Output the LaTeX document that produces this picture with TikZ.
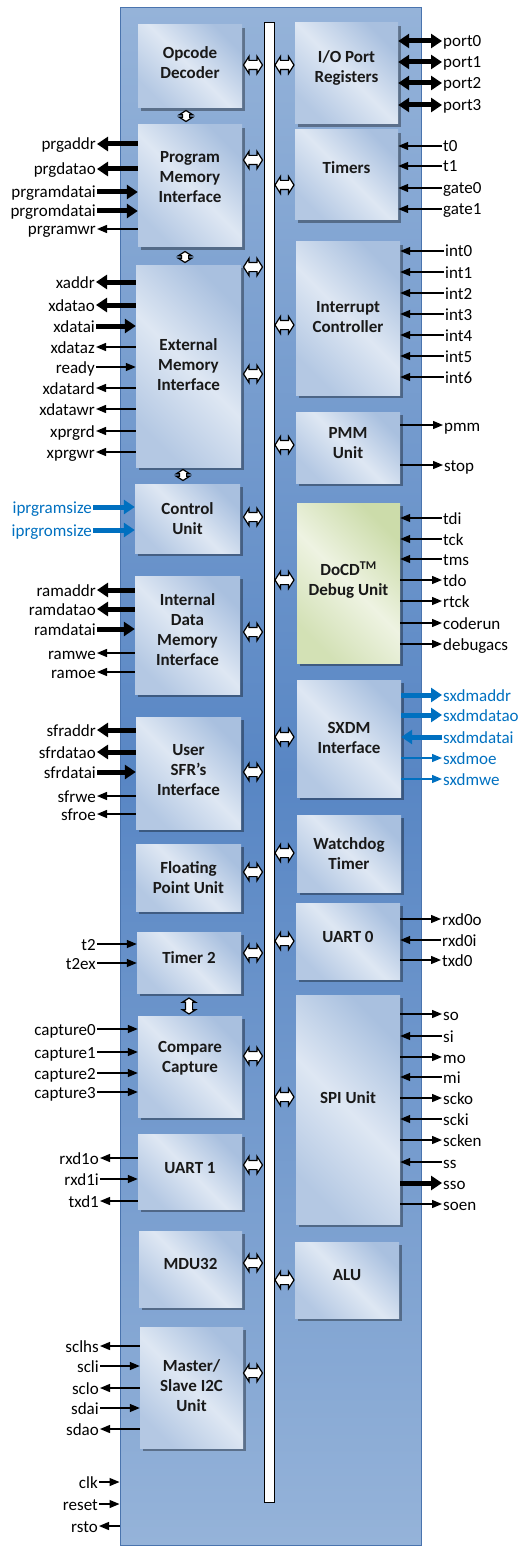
\documentclass[tikz,border=0pt]{standalone}
\usepackage{fontspec}
\setmainfont{Carlito}
\usetikzlibrary{arrows.meta,shapes.arrows,shadows}

\definecolor{corelt}{HTML}{95B3D9}
\definecolor{coredk}{HTML}{5886C4}
\definecolor{corebd}{HTML}{4A74AE}
\definecolor{blklt}{HTML}{DEE7F3}
\definecolor{blkdk}{HTML}{A9C0DF}
\definecolor{dbglt}{HTML}{EEF3E2}
\definecolor{dbgdk}{HTML}{CCDCAA}
\definecolor{sigblue}{HTML}{0070C0}

\tikzset{
  lbl/.style={font=\fontsize{17}{20}\selectfont, inner sep=1pt, text height=12pt, text depth=0pt},
  btext/.style={font=\fontsize{17}{20}\selectfont\bfseries, align=center, text=black!90},
  blk/.style={minimum width=104pt, inner sep=0pt,
    top color=blkdk, bottom color=blkdk!80!blklt, middle color=blklt, shading angle=-45,
    drop shadow={shadow xshift=3pt, shadow yshift=-3pt, fill=black, opacity=.35}},
  dbg/.style={blk, top color=dbgdk, bottom color=dbgdk!80!dbglt, middle color=dbglt, shading angle=-45},
  corebox/.style={draw=corebd, line width=1pt, minimum width=301pt, minimum height=1537pt,
    top color=corelt, bottom color=corelt, middle color=coredk},
  busbar/.style={draw, fill=white, line width=1pt, minimum width=10pt, minimum height=1479pt, inner sep=0pt},
  busarrow/.style={double arrow, draw=black, fill=white, line width=1.2pt, double arrow head extend=4pt,
    double arrow tip angle=115, inner xsep=0pt, inner ysep=4pt, minimum height=19pt},
  linkarrow/.style={busarrow, rotate=90, inner ysep=3pt, double arrow head extend=3pt, minimum height=11pt},
  sig/.style={line width=1.3pt},
  sig out/.style={sig, -{Triangle[length=10pt,width=8pt]}},
  sig in/.style={sig, {Triangle[length=10pt,width=8pt]}-},
  wide/.style={line width=5pt},
  wide out/.style={wide, -{Triangle[length=11pt,width=14pt]}},
  wide in/.style={wide, {Triangle[length=11pt,width=14pt]}-},
  wide io/.style={wide, {Triangle[length=11pt,width=14pt]}-{Triangle[length=11pt,width=14pt]}},
}

\begin{document}
\providecommand*{\busL}{}
\providecommand*{\busR}{}
\renewcommand*{\busL}{253}
\renewcommand*{\busR}{284.5}

\begin{tikzpicture}[x=1pt, y=-1pt]
  \useasboundingbox (0,0) rectangle (523,1546);
  \node[corebox] (core) at (270.5,776.5) {};
  \node[busbar] (bus) at (269,762.5) {};

  % left column
  \node[blk, minimum height=83pt, label={[btext,yshift=4pt]center:Opcode\\Decoder}] (opc) at (190,66.5) {};
  \node[blk, minimum height=122pt, label={[btext,yshift=9pt]center:Program\\Memory\\Interface}] (prog) at (190,186) {};
  \node[blk, minimum width=105pt, minimum height=202pt, label={[btext,yshift=1pt]center:External\\Memory\\Interface}] (ext) at (188.5,366) {};
  \node[blk, minimum width=105pt, minimum height=69pt, label={[btext]center:Control\\Unit}] (ctrl) at (187.5,518.5) {};
  \node[blk, minimum width=105pt, minimum height=118pt, label={[btext,yshift=5pt]center:Internal\\Data\\Memory\\Interface}] (idm) at (187.5,635) {};
  \node[blk, minimum width=105pt, minimum height=112pt, label={[btext,yshift=3pt]center:User\\SFR’s\\Interface}] (sfr) at (188.5,773) {};
  \node[blk, minimum width=105pt, minimum height=67pt, label={[btext]center:Floating\\Point Unit}] (fpu) at (188.5,877.5) {};
  \node[blk, minimum height=61pt, label={[btext,yshift=5pt]center:Timer 2}] (timertwo) at (189,962.5) {};
  \node[blk, minimum height=101pt, label={[btext,yshift=8pt]center:Compare\\Capture}] (cmp) at (190,1066.5) {};
  \node[blk, minimum height=75pt, label={[btext,yshift=3pt]center:UART 1}] (uartone) at (190,1171.5) {};
  \node[blk, minimum width=103pt, minimum height=76pt, label={[btext,yshift=5pt]center:MDU32}] (mdu) at (190.5,1269) {};
  \node[blk, minimum width=103pt, minimum height=121pt, label={[btext,yshift=2pt]center:Master/\\Slave I2C\\Unit}] (iic) at (191.5,1387.5) {};

  % right column
  \node[blk, minimum width=103pt, minimum height=101pt, label={[btext,yshift=6pt]center:I/O Port\\Registers}] (iop) at (346.5,73.5) {};
  \node[blk, minimum width=103pt, minimum height=90pt, label={[btext,yshift=7pt]center:Timers}] (timers) at (346.5,175) {};
  \node[blk, minimum height=153pt, label={[btext,yshift=1pt]center:Interrupt\\Controller}] (intc) at (348,318.5) {};
  \node[blk, minimum height=71pt, label={[btext,yshift=4pt]center:PMM\\Unit}] (pmmunit) at (348,447.5) {};
  \node[dbg, minimum width=103pt, minimum height=160pt, label={[btext,yshift=3pt]center:DoCD\textsuperscript{TM}\\Debug Unit}] (docd) at (348.5,583) {};
  \node[blk, minimum height=117pt, label={[btext,yshift=1pt]center:SXDM\\Interface}] (sxdm) at (349,738.5) {};
  \node[blk, minimum height=77pt, label={[btext]center:Watchdog\\Timer}] (wdog) at (349,853.5) {};
  \node[blk, minimum height=76pt, label={[btext,yshift=4pt]center:UART 0}] (uartzero) at (348,941) {};
  \node[blk, minimum height=229pt, label={[btext,yshift=12pt]center:SPI Unit}] (spi) at (348,1109.5) {};
  \node[blk, minimum height=76pt, label={[btext,yshift=5pt]center:ALU}] (alu) at (347,1280) {};

  % bus links
  \foreach \y in {65,160,267,374,517,632,772,872,953,1056,1165,1263,1373} {
    \node[busarrow] (bl\y) at (\busL,\y) {};
  }
  \foreach \y in {65,185,325,445,580,737,853,941,1097,1280} {
    \node[busarrow] (br\y) at (\busR,\y) {};
  }
  \node[linkarrow] (lka) at (186,116) {};
  \node[linkarrow] (lkb) at (185,257) {};
  \node[linkarrow] (lkc) at (183,475) {};
  \node[linkarrow, minimum height=16pt] (lkd) at (189,1006) {};

  % left side signals
  \foreach \y/\sig/\st in {144/prgaddr/wide out, 169/prgdatao/wide out, 192/prgramdatai/wide in,
      211/prgromdatai/wide in, 229/prgramwr/sig out} {
    \node[lbl, anchor=east] (\sig) at (97,\y) {\sig};
    \draw[\st] (prog.west |- \sig) -- (\sig);
  }
  \foreach \y/\sig/\st in {282/xaddr/wide out, 305/xdatao/wide out, 326/xdatai/wide in, 347/xdataz/sig out,
      367/ready/sig in, 388/xdatard/sig out, 409/xdatawr/sig out, 431/xprgrd/sig out, 452/xprgwr/sig out} {
    \node[lbl, anchor=east] (\sig) at (96,\y) {\sig};
    \draw[\st] (ext.west |- \sig) -- (\sig);
  }
  \foreach \y/\sig in {507/iprgramsize, 530/iprgromsize} {
    \node[lbl, anchor=east, text=sigblue] (\sig) at (93,\y) {\sig};
    \draw[wide in, sigblue] (ctrl.west |- \sig) -- (\sig);
  }
  \foreach \y/\sig/\st in {590/ramaddr/wide out, 609/ramdatao/wide out, 629/ramdatai/wide in,
      653/ramwe/sig out, 672/ramoe/sig out} {
    \node[lbl, anchor=east] (\sig) at (97,\y) {\sig};
    \draw[\st] (idm.west |- \sig) -- (\sig);
  }
  \foreach \y/\sig/\st in {730/sfraddr/wide out, 752/sfrdatao/wide out, 772/sfrdatai/wide in,
      796/sfrwe/sig out, 814/sfroe/sig out} {
    \node[lbl, anchor=east] (\sig) at (97,\y) {\sig};
    \draw[\st] (sfr.west |- \sig) -- (\sig);
  }
  \foreach \y/\sig in {944/t2, 963/t2ex} {
    \node[lbl, anchor=east] (\sig) at (97,\y) {\sig};
    \draw[sig in] (timertwo.west |- \sig) -- (\sig);
  }
  \foreach \y/\sig in {1029/capture0, 1052/capture1, 1073/capture2, 1092/capture3} {
    \node[lbl, anchor=east] (\sig) at (97,\y) {\sig};
    \draw[sig in] (cmp.west |- \sig) -- (\sig);
  }
  \foreach \y/\sig/\st in {1158/rxd1o/sig out, 1179/rxd1i/sig in, 1201/txd1/sig out} {
    \node[lbl, anchor=east] (\sig) at (100,\y) {\sig};
    \draw[\st] (uartone.west |- \sig) -- (\sig);
  }
  \foreach \y/\sig/\st in {1346/sclhs/sig out, 1366/scli/sig in, 1388/sclo/sig out,
      1408/sdai/sig in, 1429/sdao/sig out} {
    \node[lbl, anchor=east] (\sig) at (100,\y) {\sig};
    \draw[\st] (iic.west |- \sig) -- (\sig);
  }
  \foreach \y/\sig/\st in {1482/clk/sig in, 1504/reset/sig in, 1526/rsto/sig out} {
    \node[lbl, anchor=east] (\sig) at (99,\y) {\sig};
    \draw[\st] (core.west |- \sig) -- (\sig);
  }

  % right side signals
  \foreach \y/\sig in {41/port0, 62/port1, 83/port2, 105/port3} {
    \node[lbl, anchor=west] (\sig) at (442,\y) {\sig};
    \draw[wide io] (iop.east |- \sig) -- (\sig);
  }
  \foreach \y/\sig in {146/t0, 166/t1, 188/gate0, 209/gate1} {
    \node[lbl, anchor=west] (\sig) at (442,\y) {\sig};
    \draw[sig in] (timers.east |- \sig) -- (\sig);
  }
  \foreach \y/\sig in {251/int0, 272/int1, 293/int2, 314/int3, 335/int4, 356/int5, 377/int6} {
    \node[lbl, anchor=west] (\sig) at (444,\y) {\sig};
    \draw[sig in] (intc.east |- \sig) -- (\sig);
  }
  \foreach \y/\sig in {425/pmm, 465/stop} {
    \node[lbl, anchor=west] (\sig) at (443,\y) {\sig};
    \draw[sig out] (pmmunit.east |- \sig) -- (\sig);
  }
  \foreach \y/\sig/\st in {518/tdi/sig in, 539/tck/sig in, 559/tms/sig in, 580/tdo/sig out,
      601/rtck/sig out, 623/coderun/sig out, 644/debugacs/sig out} {
    \node[lbl, anchor=west] (\sig) at (442,\y) {\sig};
    \draw[\st] (docd.east |- \sig) -- (\sig);
  }
  \foreach \y/\sig/\st in {695/sxdmaddr/wide out, 715/sxdmdatao/wide out, 737/sxdmdatai/wide in,
      758/sxdmoe/sig out, 779/sxdmwe/sig out} {
    \node[lbl, anchor=west, text=sigblue] (\sig) at (442,\y) {\sig};
    \draw[\st, sigblue] (sxdm.east |- \sig) -- (\sig);
  }
  \foreach \y/\sig/\st in {919/rxd0o/sig out, 940/rxd0i/sig in, 960/txd0/sig out} {
    \node[lbl, anchor=west] (\sig) at (441,\y) {\sig};
    \draw[\st] (uartzero.east |- \sig) -- (\sig);
  }
  \foreach \y/\sig/\st in {1014/so/sig out, 1036/si/sig in, 1057/mo/sig out, 1077/mi/sig in,
      1098/scko/sig out, 1119/scki/sig in, 1140/scken/sig out, 1162/ss/sig in,
      1183/sso/wide out, 1204/soen/sig out} {
    \node[lbl, anchor=west] (\sig) at (442,\y) {\sig};
    \draw[\st] (spi.east |- \sig) -- (\sig);
  }
\end{tikzpicture}
\end{document}
